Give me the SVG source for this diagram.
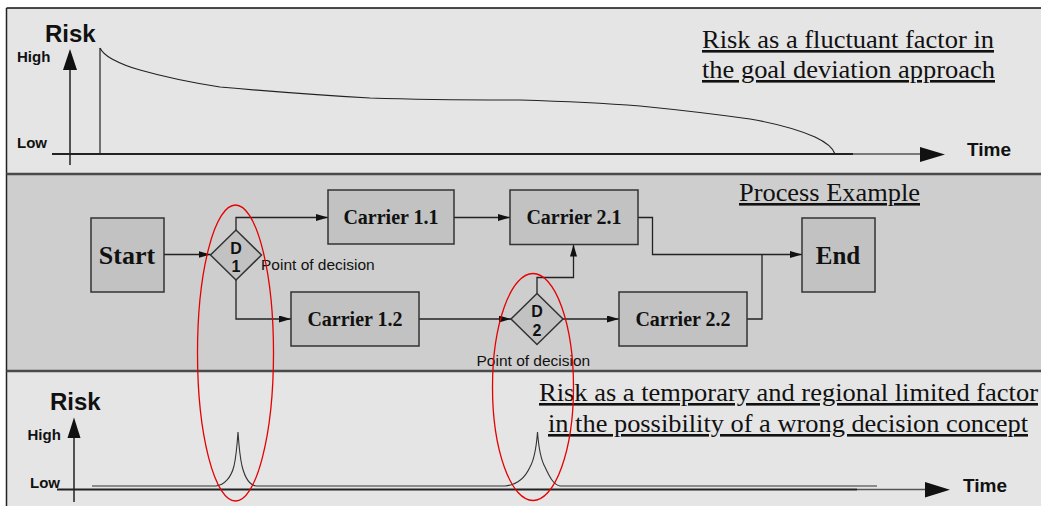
<svg xmlns="http://www.w3.org/2000/svg" width="1041" height="506" viewBox="0 0 1041 506">
<defs>
<style>
.panelA{fill:#e5e5e5}
.panelB{fill:#cecece}
.sep{stroke:#4a4a4a;stroke-width:2.5;fill:none}
.box{fill:#c2c2c2;stroke:#333;stroke-width:1.5}
.conn{fill:none;stroke:#222;stroke-width:1.3}
.ax{fill:none;stroke:#222;stroke-width:1.5}
.curve{fill:none;stroke:#222;stroke-width:1.2}
.sans{font-family:"Liberation Sans",Arial,sans-serif;fill:#111}
.bold{font-weight:bold}
.serif{font-family:"Liberation Serif","Times New Roman",serif;fill:#111}
.lbl{font-family:"Liberation Serif","Times New Roman",serif;font-weight:bold;fill:#111;text-anchor:middle}
.cap{font-family:"Liberation Serif","Times New Roman",serif;font-size:26px;fill:#111;text-decoration:underline}
.red{fill:none;stroke:#e60000;stroke-width:1.3}
</style>
<marker id="arr" markerUnits="userSpaceOnUse" markerWidth="13" markerHeight="8" refX="12" refY="3.5" orient="auto">
<path d="M0,0 L12,3.5 L0,7 z" fill="#111"/>
</marker>
</defs>
<rect x="0" y="0" width="1041" height="506" fill="#fff"/>
<g id="panels">
<rect class="panelA" x="6.5" y="8" width="1040" height="166"/>
<rect class="panelB" x="6.5" y="174" width="1040" height="197"/>
<rect class="panelA" x="6.5" y="371" width="1040" height="140"/>
<path d="M6.5,8 H1041" stroke="#111" stroke-width="1.5"/>
<path d="M6.5,8 V506" stroke="#222" stroke-width="1.5"/>
<path class="sep" d="M6.5,174 H1041"/>
<path class="sep" d="M6.5,371 H1041"/>
</g>
<g id="top-chart">
<text class="sans bold" x="45" y="42" font-size="24">Risk</text>
<text class="sans bold" x="17" y="62" font-size="15">High</text>
<text class="sans bold" x="17" y="148" font-size="15">Low</text>
<path class="ax" d="M70,68 V165"/>
<path d="M63,70 L70,49 L77,70 z" fill="#111"/>
<path d="M52,154 H853" stroke="#222" stroke-width="2"/>
<path d="M853,154 H922" stroke="#555" stroke-width="1.5"/>
<path d="M920,147 L945,154.5 L920,162 z" fill="#111"/>
<text class="sans bold" x="967" y="156" font-size="19">Time</text>
<path class="curve" d="M100,154 V48"/>
<path class="curve" d="M100,48 Q103,54 112,59 Q125,66 140,70 Q175,80 220,87 Q300,94 370,98 Q430,100 520,100 Q590,102 640,106 Q700,112 750,119 Q790,126 815,137 Q832,145 835,154"/>
<text class="cap" x="702" y="48" textLength="292" lengthAdjust="spacingAndGlyphs">Risk as a fluctuant factor in</text>
<text class="cap" x="702" y="78" textLength="293" lengthAdjust="spacingAndGlyphs">the goal deviation approach</text>
</g>
<g id="process-title">
<text class="cap" x="739" y="201" textLength="181" lengthAdjust="spacingAndGlyphs">Process Example</text>
</g>
<g id="connectors">
<path class="conn" marker-end="url(#arr)" d="M164,254.5 H210.5"/>
<path class="conn" marker-end="url(#arr)" d="M236,230 V217.5 H328"/>
<path class="conn" marker-end="url(#arr)" d="M236,280 V319 H291"/>
<path class="conn" marker-end="url(#arr)" d="M454,217.5 H510"/>
<path class="conn" marker-end="url(#arr)" d="M419,319 H511"/>
<path class="conn" marker-end="url(#arr)" d="M537,293.5 V277.5 H573.5 V244.5"/>
<path class="conn" marker-end="url(#arr)" d="M563,319 H619"/>
<path class="conn" marker-end="url(#arr)" d="M638,217.5 H652.5 V254.5 H802"/>
<path class="conn" d="M747,319 H762 V254.5"/>
</g>
<g id="start">
<rect class="box" x="91" y="218" width="73" height="74"/>
<text class="lbl" x="127" y="264" font-size="26">Start</text>
</g>
<g id="d1">
<polygon class="box" points="236,230 261.5,255 236,280 210.5,255"/>
<text class="sans bold" x="236" y="253.5" font-size="16" text-anchor="middle">D</text>
<text class="sans bold" x="236" y="271.5" font-size="16" text-anchor="middle">1</text>
<text class="sans" x="261" y="270" font-size="15.5">Point of decision</text>
</g>
<g id="carrier11">
<rect class="box" x="328" y="190" width="126" height="54"/>
<text class="lbl" x="391" y="224" font-size="20">Carrier 1.1</text>
</g>
<g id="carrier12">
<rect class="box" x="291" y="292" width="128" height="54"/>
<text class="lbl" x="355" y="326" font-size="20">Carrier 1.2</text>
</g>
<g id="carrier21">
<rect class="box" x="510" y="190" width="128" height="54.5"/>
<text class="lbl" x="574" y="224" font-size="20">Carrier 2.1</text>
</g>
<g id="d2">
<polygon class="box" points="537,293.5 563,319 537,344.5 511,319"/>
<text class="sans bold" x="537" y="317" font-size="16" text-anchor="middle">D</text>
<text class="sans bold" x="537" y="336" font-size="16" text-anchor="middle">2</text>
<text class="sans" x="476.5" y="366" font-size="15.5">Point of decision</text>
</g>
<g id="carrier22">
<rect class="box" x="619" y="292" width="128" height="54"/>
<text class="lbl" x="683" y="326" font-size="20">Carrier 2.2</text>
</g>
<g id="end">
<rect class="box" x="802" y="218" width="73" height="74"/>
<text class="lbl" x="838" y="264" font-size="25">End</text>
</g>
<g id="bottom-chart">
<text class="sans bold" x="50" y="410" font-size="24">Risk</text>
<text class="sans bold" x="27.5" y="440" font-size="15">High</text>
<text class="sans bold" x="30" y="488" font-size="15">Low</text>
<path class="ax" d="M74,436 V502"/>
<path d="M67.5,438 L74,417.5 L80.5,438 z" fill="#111"/>
<path d="M57,489.5 H857" stroke="#222" stroke-width="2"/>
<path d="M857,489.5 H927" stroke="#555" stroke-width="1.5"/>
<path d="M925,482 L950,489.8 L925,497.5 z" fill="#111"/>
<text class="sans bold" x="963" y="492" font-size="19">Time</text>
<path d="M92,486 L216,486 C224,485 231,478 234,466 C236,457 237,447 238,432 C239,447 240,457 242,466 C245,478 249,485 256,486 L505,486 C516,485 525,478 530,467 C534,460 536,452 537.5,432 C539,452 541,460 545,467 C550,478 554,485 560,486 L877,486" fill="none" stroke="#333" stroke-width="1.1"/>
<text class="cap" x="539" y="401" textLength="499" lengthAdjust="spacingAndGlyphs">Risk as a temporary and regional limited factor</text>
<text class="cap" x="548" y="432" textLength="480" lengthAdjust="spacingAndGlyphs">in the possibility of a wrong decision concept</text>
</g>
<g id="highlights">
<ellipse class="red" cx="235.5" cy="353" rx="38" ry="148"/>
<ellipse class="red" cx="533" cy="387" rx="40.5" ry="113.5"/>
</g>
</svg>
